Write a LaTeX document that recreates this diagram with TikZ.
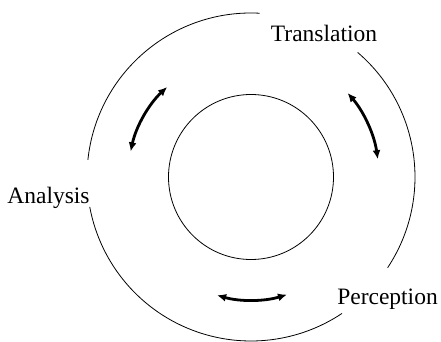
\documentclass[tikz,border=0pt]{standalone}
\usepackage{fontspec}
\setmainfont{Liberation Serif}
\usetikzlibrary{arrows.meta}

\begin{document}
\begin{tikzpicture}[
  x=1pt,
  y=1pt,
  font=\fontsize{23.5}{28}\selectfont,
  ring/.style={line width=0.8pt},
  core/.style={circle,draw,line width=0.8pt,minimum size=165pt,inner sep=0pt},
  phase/.style={anchor=base,inner sep=0pt},
  phasearrow/.style={line width=2.8pt,
    {Latex[length=9pt,width=8pt]}-{Latex[length=9pt,width=8pt]}}
]
  \useasboundingbox (-251,-165) rectangle (190,177);
  \coordinate (hub) at (0,0);

  % inner circle
  \node[core] (inner) at (hub) {};

  % outer ring, broken at the three labels
  \draw[ring] (hub) ++(87:164) arc[start angle=87,end angle=174,radius=164];
  \draw[ring] (hub) ++(190.5:164) arc[start angle=190.5,end angle=303.7,radius=164];
  \draw[ring] (hub) ++(-33.6:164) arc[start angle=-33.6,end angle=49.4,radius=164];

  \node[phase] (trans) at (73,135) {Translation};
  \node[phase] (anal) at (-202.5,-27) {Analysis};
  \node[phase] (perc) at (136.5,-127) {Perception};

  % arrows between the phases
  \draw[phasearrow] (hub) ++(133:123) arc[start angle=133,end angle=168,radius=123];
  \draw[phasearrow] (hub) ++(41:128) arc[start angle=41,end angle=8,radius=128];
  \draw[phasearrow] (hub) ++(254:123) arc[start angle=254,end angle=287,radius=123];
\end{tikzpicture}
\end{document}
